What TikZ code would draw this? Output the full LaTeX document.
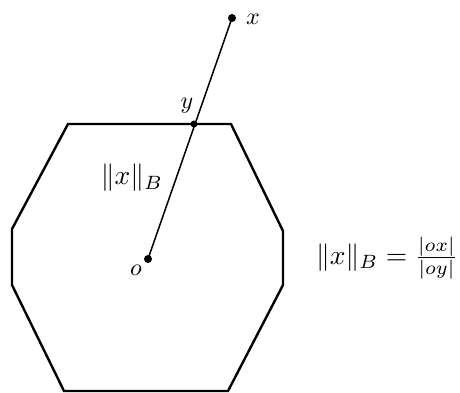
\documentclass[tikz,border=0pt]{standalone}
\begin{document}
\begin{tikzpicture}[x=1pt,y=-1pt,
  poly/.style={line width=2.4pt,line join=miter},
  seg/.style={line width=1.5pt},
  pt/.style={circle,fill=black,inner sep=0pt,minimum size=8pt},
  lab/.style={inner sep=0pt,scale=2.4},
  biglab/.style={inner sep=0pt,scale=2.75}]
\useasboundingbox (0,0) rectangle (460,393);
\coordinate (v1) at (68,124);
\coordinate (v2) at (231,124);
\coordinate (v3) at (283,231);
\coordinate (v4) at (283,285);
\coordinate (v5) at (228,391);
\coordinate (v6) at (64,391);
\coordinate (v7) at (12,285);
\coordinate (v8) at (12,229);
\draw[poly] (v1) -- (v2) -- (v3) -- (v4) -- (v5) -- (v6) -- (v7) -- (v8) -- cycle;
\node[pt] (o) at (148,259) {};
\node[pt] (x) at (232,18) {};
\node[pt,minimum size=7pt] (y) at (194,124) {};
\draw[seg] (o.center) -- (x.center);
\node[lab] (xl) at (253,19) {$x$};
\node[lab] (yl) at (187,106) {$y$};
\node[lab] (ol) at (136,270) {$o$};
\node[biglab] (norm) at (132,178) {$\|x\|_B$};
\node[biglab] (formula) at (387,258) {$\|x\|_B = \frac{|ox|}{|oy|}$};
\end{tikzpicture}
\end{document}
